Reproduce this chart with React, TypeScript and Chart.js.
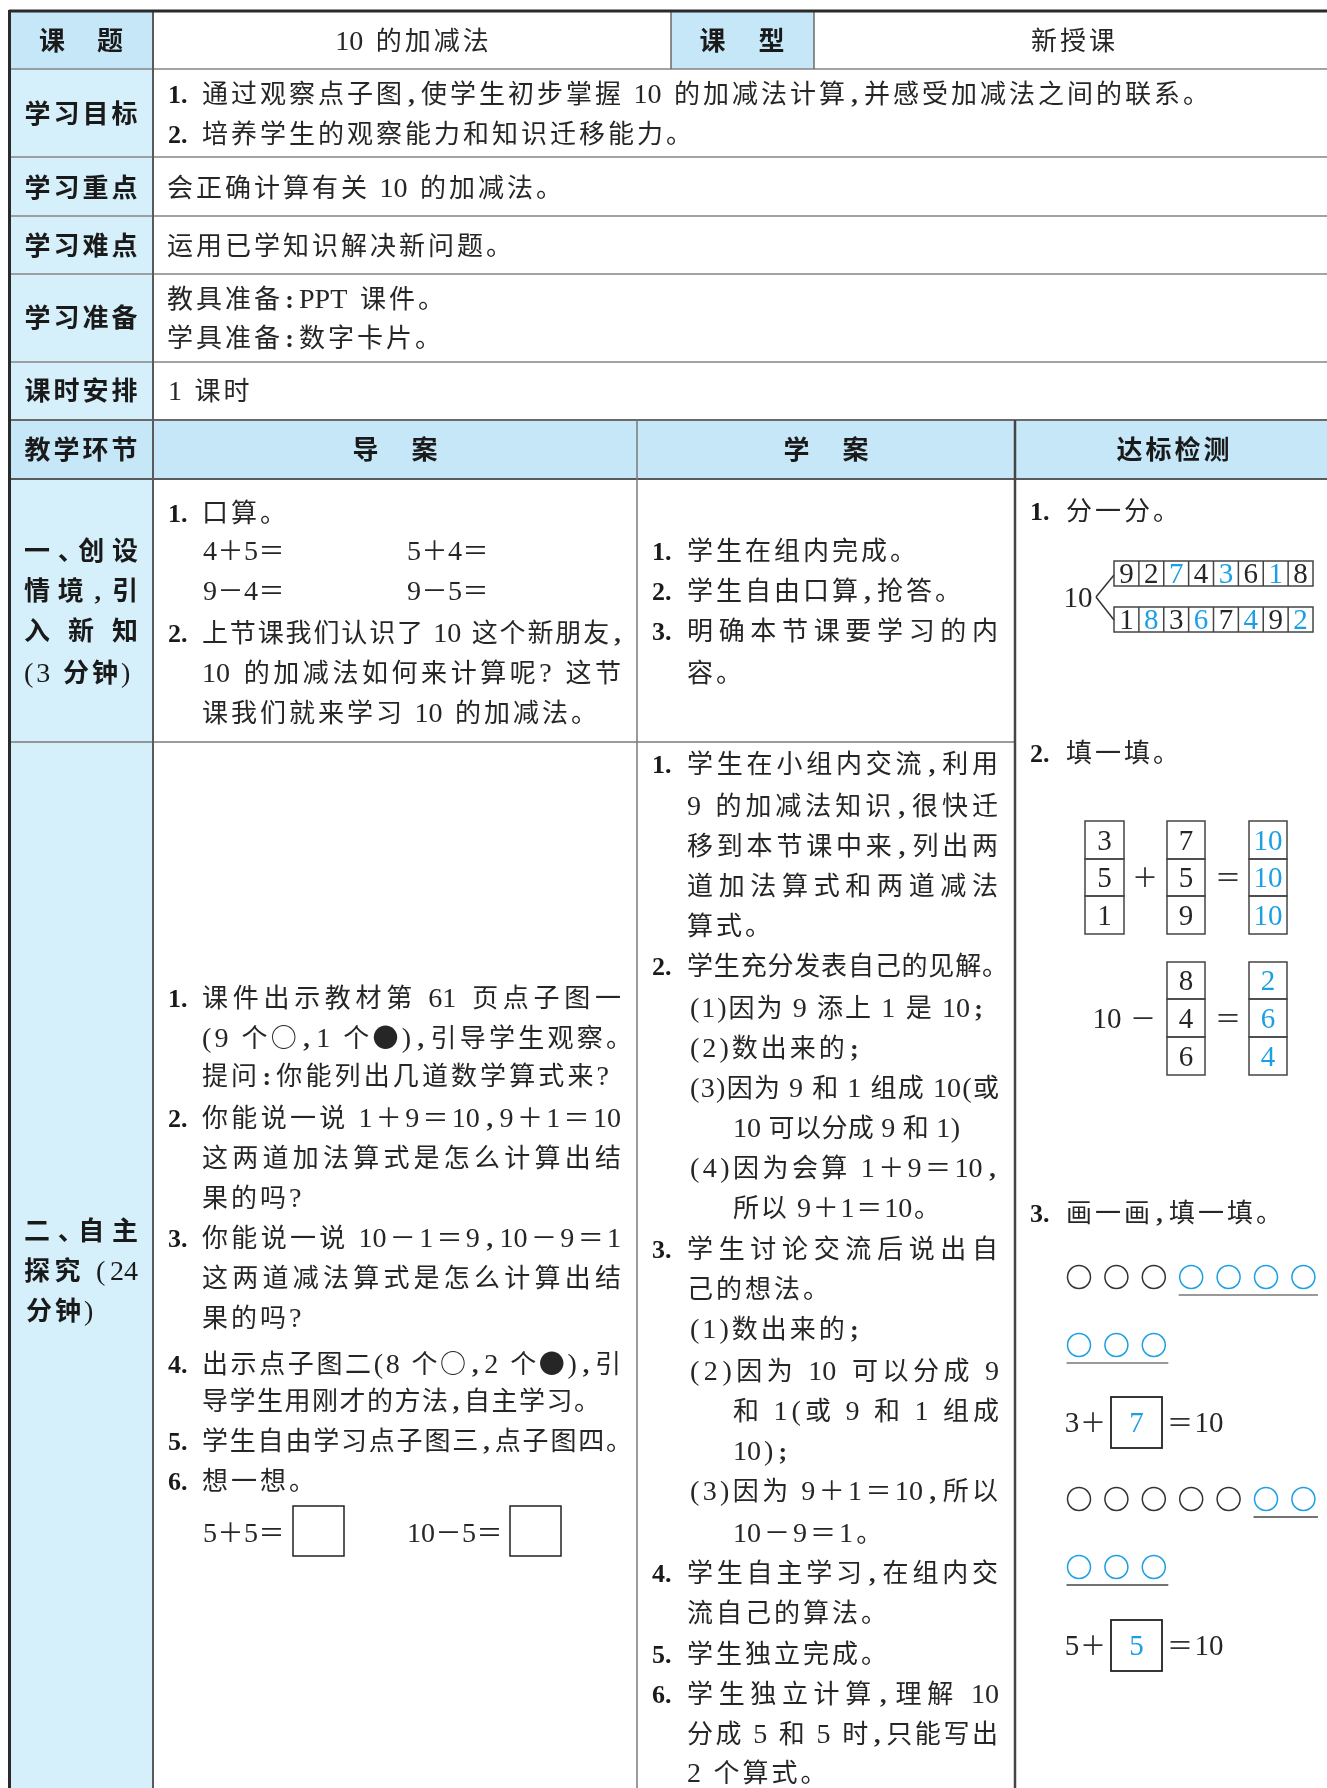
import React, { useEffect, useRef } from 'react';
import { Chart, registerables } from 'chart.js';

Chart.register(...registerables);

const W = 1327;
const H = 1788;

// ---------- content ----------
const titleLabels = [['课', '题'], ['课', '型']];
const titleCells = ['10 的加减法', '新授课'];
const rowLabels = ['学习目标', '学习重点', '学习难点', '学习准备', '课时安排'];
const goalLines = [
  ['1.', '通过观察点子图，使学生初步掌握 10 的加减法计算，并感受加减法之间的联系。'],
  ['2.', '培养学生的观察能力和知识迁移能力。'],
];
const keyLine = '会正确计算有关 10 的加减法。';
const hardLine = '运用已学知识解决新问题。';
const prepLines = ['教具准备：PPT 课件。', '学具准备：数字卡片。'];
const hourLine = '1 课时';
const colHeads = [['教', '学', '环', '节'], ['导', '案'], ['学', '案'], ['达', '标', '检', '测']];

const stage1Label = ['一、创设', '情境，引', '入新知', '(3 分钟)'];
const stage2Label = ['二、自主', '探究 (24', '分钟)'];

const guide1 = [
  ['1.', '口算。'],
  ['2.', '上节课我们认识了 10 这个新朋友，'],
  ['', '10 的加减法如何来计算呢? 这节'],
  ['', '课我们就来学习 10 的加减法。'],
];
const oralCalc = [['4＋5＝', '5＋4＝'], ['9－4＝', '9－5＝']];

const study1 = [
  ['1.', '学生在组内完成。'],
  ['2.', '学生自由口算，抢答。'],
  ['3.', '明确本节课要学习的内'],
  ['', '容。'],
];

const guide2 = [
  ['1.', '课件出示教材第 61 页点子图一'],
  ['', '(9 个○，1 个●)，引导学生观察。'],
  ['', '提问：你能列出几道数学算式来?'],
  ['2.', '你能说一说 1＋9＝10，9＋1＝10'],
  ['', '这两道加法算式是怎么计算出结'],
  ['', '果的吗?'],
  ['3.', '你能说一说 10－1＝9，10－9＝1'],
  ['', '这两道减法算式是怎么计算出结'],
  ['', '果的吗?'],
  ['4.', '出示点子图二(8 个○，2 个●)，引'],
  ['', '导学生用刚才的方法，自主学习。'],
  ['5.', '学生自由学习点子图三，点子图四。'],
  ['6.', '想一想。'],
];
const thinkEqs = ['5＋5＝', '10－5＝'];

const study2 = [
  ['1.', '学生在小组内交流，利用'],
  ['', '9 的加减法知识，很快迁'],
  ['', '移到本节课中来，列出两'],
  ['', '道加法算式和两道减法'],
  ['', '算式。'],
  ['2.', '学生充分发表自己的见解。'],
  ['', '(1)因为 9 添上 1 是 10；'],
  ['', '(2)数出来的；'],
  ['', '(3)因为 9 和 1 组成 10(或'],
  ['', '10 可以分成 9 和 1)'],
  ['', '(4)因为会算 1＋9＝10，'],
  ['', '所以 9＋1＝10。'],
  ['3.', '学生讨论交流后说出自'],
  ['', '己的想法。'],
  ['', '(1)数出来的；'],
  ['', '(2)因为 10 可以分成 9'],
  ['', '和 1(或 9 和 1 组成'],
  ['', '10)；'],
  ['', '(3)因为 9＋1＝10，所以'],
  ['', '10－9＝1。'],
  ['4.', '学生自主学习，在组内交'],
  ['', '流自己的算法。'],
  ['5.', '学生独立完成。'],
  ['6.', '学生独立计算，理解 10'],
  ['', '分成 5 和 5 时，只能写出'],
  ['', '2 个算式。'],
];

const checkTitles = [['1.', '分一分。'], ['2.', '填一填。'], ['3.', '画一画，填一填。']];
const splitTotal = '10';
const splitTop = [9, 2, 7, 4, 3, 6, 1, 8];
const splitTopBlue = [false, false, true, false, true, false, true, false];
const splitBottom = [1, 8, 3, 6, 7, 4, 9, 2];
const splitBottomBlue = [false, true, false, true, false, true, false, true];
const addA = [3, 5, 1];
const addB = [7, 5, 9];
const addSum = [10, 10, 10];
const subB = [8, 4, 6];
const subC = [2, 6, 4];
const circleRows = [
  { black: 3, blue: 4 },
  { black: 0, blue: 3 },
  { black: 5, blue: 2 },
  { black: 0, blue: 3 },
];
const fillEqs = [
  { left: '3', ans: '7', right: '10' },
  { left: '5', ans: '5', right: '10' },
];

// ---------- style ----------
const FS = 26;
const LAT = 1.08; // serif digits are set a little larger than the CJK em
const INK = '#262626';
const BLUE = '#1c9fe3';
const HEAD_BG = '#c6e7f8';
const LABEL_BG = '#d6f0fb';

const fontCJK = (bold: boolean, size: number) =>
  `${bold ? 'bold' : 'normal'} ${size}px "Noto Sans CJK SC", "Noto Sans CJK JP", sans-serif`;
const fontSerif = (bold: boolean, size: number) =>
  `${bold ? 'bold' : 'normal'} ${size}px "Liberation Serif", "DejaVu Serif", serif`;

type Tok = { k: string; t: string; w: number };

function tokenize(ctx: CanvasRenderingContext2D, s: string, size: number): Tok[] {
  const out: Tok[] = [];
  const latRe = /[A-Za-z0-9.?]/;
  let i = 0;
  while (i < s.length) {
    const c = s[i];
    if (c === ' ') {
      out.push({ k: 'sp', t: c, w: size * 0.25 });
      i++;
    } else if (c === '(' || c === ')' || latRe.test(c)) {
      let j = i + 1;
      if (c !== '(' && c !== ')') {
        while (j < s.length && latRe.test(s[j])) j++;
      }
      const t = s.slice(i, j);
      ctx.font = fontSerif(false, size * LAT);
      out.push({ k: 'lat', t, w: ctx.measureText(t).width });
      i = j;
    } else if ('，：；'.includes(c)) {
      out.push({ k: 'punc', t: c === '，' ? ',' : c === '：' ? ':' : ';', w: size * 0.5 });
      i++;
    } else if (c === '、') {
      out.push({ k: 'half', t: c, w: size * 0.5 });
      i++;
    } else {
      out.push({ k: 'cjk', t: c, w: size });
      i++;
    }
  }
  return out;
}

function textWidth(ctx: CanvasRenderingContext2D, s: string, size = FS, gap = 3) {
  const toks = tokenize(ctx, s, size);
  return toks.reduce((a, t) => a + t.w, 0) + gap * (toks.length - 1);
}

function drawText(
  ctx: CanvasRenderingContext2D,
  s: string,
  x: number,
  yc: number,
  o: { end?: number; gap?: number; size?: number; bold?: boolean; color?: string } = {}
) {
  const size = o.size ?? FS;
  const toks = tokenize(ctx, s, size);
  const sum = toks.reduce((a, t) => a + t.w, 0);
  let gap = o.gap ?? 3;
  if (o.end !== undefined && toks.length > 1) gap = (o.end - x - sum) / (toks.length - 1);
  const base = yc + size * 0.38;
  ctx.fillStyle = o.color ?? INK;
  ctx.textBaseline = 'alphabetic';
  let cx = x;
  for (const t of toks) {
    if (t.k === 'cjk' || t.k === 'half') {
      ctx.font = fontCJK(!!o.bold, size);
      ctx.textAlign = 'left';
      ctx.fillText(t.t, cx, base);
    } else if (t.k === 'punc') {
      ctx.font = fontSerif(true, size);
      ctx.textAlign = 'center';
      ctx.fillText(t.t, cx + t.w / 2, base);
    } else if (t.k === 'lat') {
      ctx.font = fontSerif(false, size * LAT);
      ctx.textAlign = 'left';
      ctx.fillText(t.t, cx, base);
    }
    cx += t.w + gap;
  }
  ctx.textAlign = 'left';
}

function drawNum(ctx: CanvasRenderingContext2D, n: string, x: number, yc: number) {
  if (!n) return;
  ctx.font = fontSerif(true, FS);
  ctx.fillStyle = '#1a1a1a';
  ctx.textAlign = 'left';
  ctx.textBaseline = 'alphabetic';
  ctx.fillText(n, x, yc + FS * 0.38);
}

function drawSpaced(ctx: CanvasRenderingContext2D, chars: string[], cx: number, yc: number, pitch: number) {
  const start = cx - ((chars.length - 1) * pitch) / 2;
  ctx.font = fontCJK(true, FS);
  ctx.fillStyle = '#1a1a1a';
  ctx.textAlign = 'center';
  ctx.textBaseline = 'alphabetic';
  chars.forEach((c, i) => ctx.fillText(c, start + i * pitch, yc + FS * 0.38));
  ctx.textAlign = 'left';
}

function digitAt(ctx: CanvasRenderingContext2D, s: string, cx: number, cy: number, size: number, color: string) {
  ctx.font = fontSerif(false, size);
  ctx.fillStyle = color;
  ctx.textAlign = 'center';
  ctx.textBaseline = 'alphabetic';
  ctx.fillText(s, cx, cy + size * 0.33);
  ctx.textAlign = 'left';
}

function line(ctx: CanvasRenderingContext2D, x1: number, y1: number, x2: number, y2: number, color: string, w: number) {
  ctx.beginPath();
  ctx.strokeStyle = color;
  ctx.lineWidth = w;
  ctx.moveTo(x1, y1);
  ctx.lineTo(x2, y2);
  ctx.stroke();
}

const tablePlugin = {
  id: 'lessonTable',
  afterDraw(chart: any) {
    const ctx: CanvasRenderingContext2D = chart.ctx;
    const X = (v: number) => chart.scales.x.getPixelForValue(v);
    const Y = (v: number) => chart.scales.y.getPixelForValue(v);
    ctx.save();

    ctx.fillStyle = '#ffffff';
    ctx.fillRect(X(0), Y(0), X(W) - X(0), Y(H) - Y(0));

    // ----- cell fills -----
    const fill = (x1: number, y1: number, x2: number, y2: number, c: string) => {
      ctx.fillStyle = c;
      ctx.fillRect(X(x1), Y(y1), X(x2) - X(x1), Y(y2) - Y(y1));
    };
    fill(9, 11, 153, 69, HEAD_BG);
    fill(671, 11, 814, 69, HEAD_BG);
    fill(9, 69, 153, 420, LABEL_BG);
    fill(9, 420, W, 479, HEAD_BG);
    fill(9, 479, 153, H, LABEL_BG);

    // ----- grid -----
    const rowLines = [69, 157, 216, 274, 362];
    rowLines.forEach((y) => line(ctx, X(9), Y(y), X(W), Y(y), '#858585', 1.5));
    line(ctx, X(9), Y(420), X(W), Y(420), '#6a6a6a', 2);
    line(ctx, X(9), Y(479), X(W), Y(479), '#5a5a5a', 2);
    line(ctx, X(9), Y(742), X(1015), Y(742), '#7a7a7a', 1.5);
    line(ctx, X(671), Y(11), X(671), Y(69), '#6a6a6a', 1.5);
    line(ctx, X(814), Y(11), X(814), Y(69), '#6a6a6a', 1.5);
    line(ctx, X(637), Y(420), X(637), Y(H), '#7a7a7a', 1.5);
    line(ctx, X(1015), Y(420), X(1015), Y(H), '#454545', 2.5);
    line(ctx, X(153), Y(11), X(153), Y(H), '#5a5a5a', 2);
    line(ctx, X(9), Y(11), X(W), Y(11), '#2a2a2a', 3);
    line(ctx, X(9.5), Y(10), X(9.5), Y(H), '#2a2a2a', 3);

    // ----- row 1 -----
    drawSpaced(ctx, titleLabels[0], X(81), Y(40), 58);
    drawSpaced(ctx, titleLabels[1], X(742), Y(40), 59);
    const tw0 = textWidth(ctx, titleCells[0]);
    drawText(ctx, titleCells[0], X(412) - tw0 / 2, Y(40));
    const tw1 = textWidth(ctx, titleCells[1]);
    drawText(ctx, titleCells[1], X(1073) - tw1 / 2, Y(40));

    // ----- label column rows 2-6 -----
    const labelY = [113, 187, 245, 317, 390];
    rowLabels.forEach((l, i) => drawSpaced(ctx, l.split(''), X(81), Y(labelY[i]), 29));

    const goalY = [93, 133];
    goalLines.forEach(([n, s], i) => {
      drawNum(ctx, n, X(168), Y(goalY[i]));
      drawText(ctx, s, X(202), Y(goalY[i]), i === 0 ? { end: X(1209) } : {});
    });
    drawText(ctx, keyLine, X(167), Y(187));
    drawText(ctx, hardLine, X(167), Y(245));
    drawText(ctx, prepLines[0], X(167), Y(298));
    drawText(ctx, prepLines[1], X(167), Y(337));
    drawText(ctx, hourLine, X(168), Y(390));

    // ----- header row -----
    drawSpaced(ctx, colHeads[0], X(81), Y(449), 29);
    drawSpaced(ctx, colHeads[1], X(395), Y(449), 59);
    drawSpaced(ctx, colHeads[2], X(826), Y(449), 59);
    drawSpaced(ctx, colHeads[3], X(1173), Y(449), 29);

    // ----- stage labels -----
    const s1Y = [550, 590, 630, 672];
    stage1Label.forEach((s, i) =>
      drawText(ctx, s, X(24), Y(s1Y[i]), i < 3 ? { end: X(138), bold: true, color: '#1a1a1a' } : { bold: true, color: '#1a1a1a' })
    );
    const s2Y = [1230, 1270, 1310];
    stage2Label.forEach((s, i) =>
      drawText(ctx, s, X(i === 2 ? 26 : 24), Y(s2Y[i]), i < 2 ? { end: X(138), bold: true, color: '#1a1a1a' } : { bold: true, color: '#1a1a1a' })
    );

    // ----- guide column, stage 1 -----
    const g1 = [{ y: 512 }, { y: 632, end: 624 }, { y: 672, end: 621 }, { y: 712 }];
    guide1.forEach(([n, s], i) => {
      drawNum(ctx, n, X(168), Y(g1[i].y));
      drawText(ctx, s, X(202), Y(g1[i].y), g1[i].end ? { end: X(g1[i].end) } : {});
    });
    const calcY = [550, 590];
    oralCalc.forEach((pair, i) => {
      drawText(ctx, pair[0], X(203), Y(calcY[i]), { gap: 0.5 });
      drawText(ctx, pair[1], X(407), Y(calcY[i]), { gap: 0.5 });
    });

    // ----- study column, stage 1 -----
    const st1 = [{ y: 550 }, { y: 590 }, { y: 630, end: 998 }, { y: 672 }];
    study1.forEach(([n, s], i) => {
      drawNum(ctx, n, X(652), Y(st1[i].y));
      drawText(ctx, s, X(687), Y(st1[i].y), st1[i].end ? { end: X(st1[i].end) } : {});
    });

    // ----- guide column, stage 2 -----
    const g2: { y: number; end?: number }[] = [
      { y: 997, end: 621 },
      { y: 1037, end: 632 },
      { y: 1075, end: 609 },
      { y: 1117, end: 621 },
      { y: 1157, end: 621 },
      { y: 1197 },
      { y: 1237, end: 621 },
      { y: 1277, end: 621 },
      { y: 1317 },
      { y: 1363, end: 621 },
      { y: 1400, end: 600 },
      { y: 1440, end: 632 },
      { y: 1480 },
    ];
    guide2.forEach(([n, s], i) => {
      drawNum(ctx, n, X(168), Y(g2[i].y));
      drawText(ctx, s, X(202), Y(g2[i].y), g2[i].end ? { end: X(g2[i].end!) } : {});
    });
    drawText(ctx, thinkEqs[0], X(203), Y(1532), { gap: 0.5 });
    drawText(ctx, thinkEqs[1], X(407), Y(1532), { gap: 0.5 });
    ctx.strokeStyle = '#222';
    ctx.lineWidth = 1.5;
    ctx.strokeRect(X(293), Y(1506), X(344) - X(293), Y(1556) - Y(1506));
    ctx.strokeRect(X(510), Y(1506), X(561) - X(510), Y(1556) - Y(1506));

    // ----- study column, stage 2 -----
    const T = 687, P = 690, I = 733;
    const st2: { x?: number; y: number; end?: number }[] = [
      { y: 763, end: 998 },
      { y: 805, end: 998 },
      { y: 845, end: 998 },
      { y: 885, end: 998 },
      { y: 925 },
      { y: 965, end: 1008 },
      { x: P, y: 1007, end: 985 },
      { x: P, y: 1047 },
      { x: P, y: 1087, end: 999 },
      { x: I, y: 1127, end: 960 },
      { x: P, y: 1167, end: 999 },
      { x: I, y: 1207, end: 940 },
      { y: 1248, end: 998 },
      { y: 1288 },
      { x: P, y: 1328 },
      { x: P, y: 1370, end: 999 },
      { x: I, y: 1410, end: 999 },
      { x: I, y: 1450 },
      { x: P, y: 1490, end: 998 },
      { x: I, y: 1532 },
      { y: 1572, end: 998 },
      { y: 1612 },
      { y: 1653 },
      { y: 1693, end: 999 },
      { y: 1733, end: 998 },
      { y: 1772 },
    ];
    study2.forEach(([n, s], i) => {
      const L = st2[i];
      drawNum(ctx, n, X(652), Y(L.y));
      drawText(ctx, s, X(L.x ?? T), Y(L.y), L.end ? { end: X(L.end) } : {});
    });

    // ----- check column -----
    const ctY = [510, 752, 1212];
    checkTitles.forEach(([n, s], i) => {
      drawNum(ctx, n, X(1030), Y(ctY[i]));
      drawText(ctx, s, X(1066), Y(ctY[i]));
    });

    // 分一分
    digitAt(ctx, splitTotal, X(1078), Y(597), 29, INK);
    line(ctx, X(1096), Y(597), X(1114), Y(575), '#333', 1.5);
    line(ctx, X(1096), Y(597), X(1114), Y(620), '#333', 1.5);
    const cellW = (1313 - 1114) / splitTop.length;
    const drawRow = (vals: number[], blue: boolean[], y0: number, y1: number) => {
      ctx.strokeStyle = '#444';
      ctx.lineWidth = 1.5;
      ctx.strokeRect(X(1114), Y(y0), X(1313) - X(1114), Y(y1) - Y(y0));
      for (let k = 1; k < vals.length; k++) line(ctx, X(1114 + k * cellW), Y(y0), X(1114 + k * cellW), Y(y1), '#444', 1.5);
      vals.forEach((v, k) =>
        digitAt(ctx, String(v), X(1114 + (k + 0.5) * cellW), Y((y0 + y1) / 2), 29, blue[k] ? BLUE : INK)
      );
    };
    drawRow(splitTop, splitTopBlue, 561, 586);
    drawRow(splitBottom, splitBottomBlue, 607, 632);

    // 填一填
    const stack = (x0: number, x1: number, ys: number[], vals: number[], color: string) => {
      ctx.strokeStyle = '#444';
      ctx.lineWidth = 1.5;
      for (let k = 0; k < vals.length; k++) {
        ctx.strokeRect(X(x0), Y(ys[k]), X(x1) - X(x0), Y(ys[k + 1]) - Y(ys[k]));
        digitAt(ctx, String(vals[k]), X((x0 + x1) / 2), Y((ys[k] + ys[k + 1]) / 2), 29, color);
      }
    };
    const addY = [821, 859, 896, 934];
    stack(1085, 1124, addY, addA, INK);
    stack(1167, 1205, addY, addB, INK);
    stack(1249, 1287, addY, addSum, BLUE);
    const sym = (s: string, cx: number, cy: number) => {
      ctx.font = fontCJK(false, 26);
      ctx.fillStyle = '#333';
      ctx.textAlign = 'center';
      ctx.textBaseline = 'alphabetic';
      ctx.fillText(s, cx, cy + 26 * 0.38);
      ctx.textAlign = 'left';
    };
    sym('＋', X(1145), Y(877));
    sym('＝', X(1228), Y(877));
    const subY = [962, 999, 1037, 1075];
    digitAt(ctx, '10', X(1107), Y(1018), 29, INK);
    sym('－', X(1143), Y(1018));
    stack(1167, 1205, subY, subB, INK);
    stack(1249, 1287, subY, subC, BLUE);
    sym('＝', X(1228), Y(1018));

    // 画一画
    const rowY = [1277, 1345, 1499, 1567];
    const r = 11.5;
    const step = 37.4;
    circleRows.forEach((row, ri) => {
      const total = row.black + row.blue;
      for (let k = 0; k < total; k++) {
        const cx = 1079 + k * step;
        ctx.beginPath();
        ctx.strokeStyle = k < row.black ? '#333' : BLUE;
        ctx.lineWidth = 1.5;
        ctx.arc(X(cx), Y(rowY[ri]), r, 0, Math.PI * 2);
        ctx.stroke();
      }
      const first = 1079 + row.black * step;
      const last = 1079 + (total - 1) * step;
      line(ctx, X(first - r - 1), Y(rowY[ri] + 18), X(last + r + 3), Y(rowY[ri] + 18), ri >= 2 ? '#444' : '#777', 1.5);
    });

    const eqY = [1422, 1645];
    fillEqs.forEach((eq, i) => {
      const cy = eqY[i];
      digitAt(ctx, eq.left, X(1072), Y(cy), 29, INK);
      sym('＋', X(1093), Y(cy));
      ctx.strokeStyle = '#222';
      ctx.lineWidth = 1.8;
      ctx.strokeRect(X(1111), Y(cy - 25), X(1162) - X(1111), Y(cy + 26) - Y(cy - 25));
      digitAt(ctx, eq.ans, X(1136.5), Y(cy), 29, BLUE);
      sym('＝', X(1180), Y(cy));
      digitAt(ctx, eq.right, X(1209), Y(cy), 29, INK);
    });

    ctx.restore();
  },
};

export default function App() {
  const ref = useRef<HTMLCanvasElement>(null);
  useEffect(() => {
    document.body.style.margin = '0';
    const chart = new Chart(ref.current as HTMLCanvasElement, {
      type: 'scatter',
      data: { datasets: [] },
      options: {
        responsive: false,
        animation: false,
        events: [],
        layout: { padding: 0 },
        plugins: { legend: { display: false }, tooltip: { enabled: false } },
        scales: {
          x: { type: 'linear', min: 0, max: W, display: false },
          y: { type: 'linear', min: 0, max: H, reverse: true, display: false },
        },
      },
      plugins: [tablePlugin as any],
    } as any);
    return () => chart.destroy();
  }, []);
  return <canvas ref={ref} width={W} height={H} style={{ display: 'block', width: W, height: H }} />;
}
